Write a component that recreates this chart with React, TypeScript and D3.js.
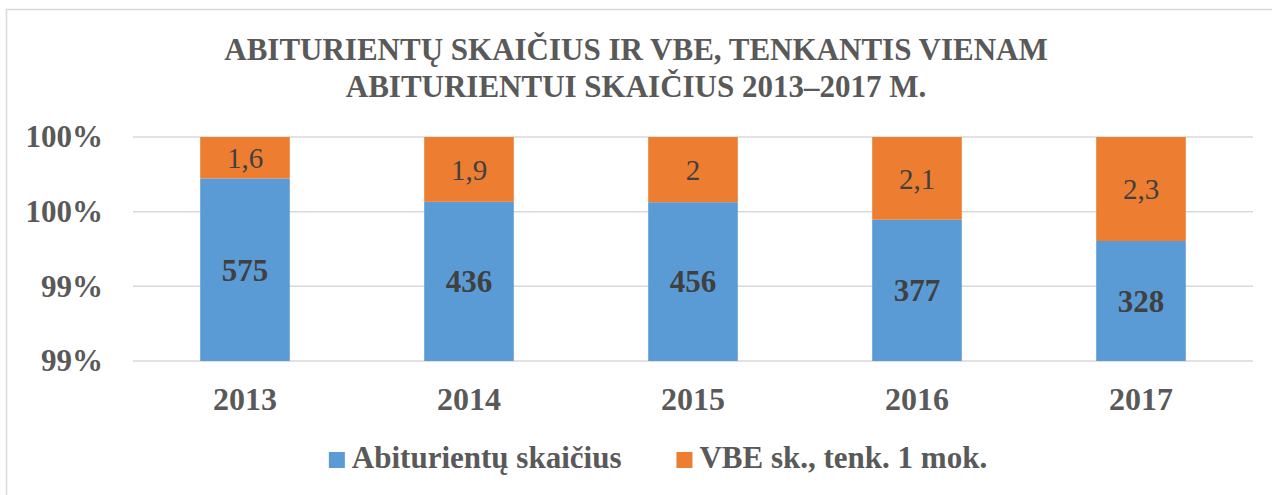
import React, { useEffect, useRef } from "react";
import * as d3 from "d3";

const years = ["2013", "2014", "2015", "2016", "2017"];
const students = [575, 436, 456, 377, 328];
const exams = [1.6, 1.9, 2, 2.1, 2.3];
const examLabels = ["1,6", "1,9", "2", "2,1", "2,3"];
const yTicks = [0.985, 0.99, 0.995, 1];
const seriesNames = ["Abiturientų skaičius", "VBE sk., tenk. 1 mok."];
const titleLines = [
  "ABITURIENTŲ SKAIČIUS IR VBE, TENKANTIS VIENAM",
  "ABITURIENTUI SKAIČIUS 2013–2017 M.",
];

const W = 1272;
const H = 495;
const colors = ["#5B9BD5", "#ED7D31"];
const textColor = "#595959";
const font = "'Liberation Serif', 'Times New Roman', serif";

export default function App() {
  const ref = useRef<SVGSVGElement>(null);

  useEffect(() => {
    const svg = d3.select(ref.current);
    svg.selectAll("*").remove();

    const m = { left: 133, right: 1253, top: 137, bottom: 361 };

    svg
      .append("rect")
      .attr("x", 6.5)
      .attr("y", 9.5)
      .attr("width", W + 20)
      .attr("height", H + 20)
      .attr("fill", "#fff")
      .attr("stroke", "#D9D9D9")
      .attr("stroke-width", 1.5);

    // title
    svg
      .append("g")
      .selectAll("text")
      .data(titleLines)
      .join("text")
      .attr("x", 636)
      .attr("y", (_, i) => 60 + i * 37)
      .attr("text-anchor", "middle")
      .attr("font-family", font)
      .attr("font-weight", "bold")
      .attr("font-size", 31)
      .attr("fill", textColor)
      .text((d) => d);

    const x = d3.scaleBand().domain(years).range([m.left, m.right]).paddingInner(0.6).paddingOuter(0.3);
    const y = d3.scaleLinear().domain([yTicks[0], yTicks[yTicks.length - 1]]).range([m.bottom, m.top]);

    // gridlines
    svg
      .append("g")
      .selectAll("line")
      .data(yTicks)
      .join("line")
      .attr("x1", m.left)
      .attr("x2", m.right)
      .attr("y1", (d) => y(d))
      .attr("y2", (d) => y(d))
      .attr("stroke", "#D9D9D9")
      .attr("stroke-width", 1.5);

    const fmt = (v: number) => Math.round(Math.round(v * 1000) / 10) + "%";
    svg
      .append("g")
      .selectAll("text")
      .data(yTicks)
      .join("text")
      .attr("x", 103)
      .attr("y", (d) => y(d))
      .attr("dy", "0.33em")
      .attr("text-anchor", "end")
      .attr("font-family", font)
      .attr("font-weight", "bold")
      .attr("font-size", 31)
      .attr("fill", textColor)
      .text((d) => fmt(d));

    const table = years.map((yr, i) => ({ year: yr, a: students[i], b: exams[i], i }));
    const stack = d3.stack<any>().keys(["a", "b"]).offset(d3.stackOffsetExpand);
    const series = stack(table);

    svg
      .append("clipPath")
      .attr("id", "plotclip")
      .append("rect")
      .attr("x", m.left)
      .attr("y", m.top)
      .attr("width", m.right - m.left)
      .attr("height", m.bottom - m.top);

    const bars = svg.append("g").attr("clip-path", "url(#plotclip)");
    series.forEach((s, si) => {
      bars
        .append("g")
        .selectAll("rect")
        .data(s)
        .join("rect")
        .attr("x", (d: any) => x(d.data.year)!)
        .attr("width", x.bandwidth())
        .attr("y", (d: any) => y(d[1]))
        .attr("height", (d: any) => y(d[0]) - y(d[1]))
        .attr("fill", colors[si]);
    });

    // data labels
    const clampY = (v: number) => Math.max(m.top, Math.min(m.bottom, y(v)));
    series.forEach((s, si) => {
      svg
        .append("g")
        .selectAll("text")
        .data(s)
        .join("text")
        .attr("x", (d: any) => x(d.data.year)! + x.bandwidth() / 2)
        .attr("y", (d: any) => (clampY(d[0]) + clampY(d[1])) / 2)
        .attr("dy", "0.35em")
        .attr("text-anchor", "middle")
        .attr("font-family", font)
        .attr("font-weight", si === 0 ? "bold" : "normal")
        .attr("font-size", si === 0 ? 31 : 29)
        .attr("fill", "#404040")
        .text((d: any) => (si === 0 ? String(students[d.data.i]) : examLabels[d.data.i]));
    });

    // x labels
    svg
      .append("g")
      .selectAll("text")
      .data(years)
      .join("text")
      .attr("x", (d) => x(d)! + x.bandwidth() / 2)
      .attr("y", 410)
      .attr("text-anchor", "middle")
      .attr("font-family", font)
      .attr("font-weight", "bold")
      .attr("font-size", 32)
      .attr("fill", textColor)
      .text((d) => d);

    // legend
    const lg = svg.append("g");
    const items = lg
      .selectAll("g")
      .data(seriesNames)
      .join("g");
    items
      .append("rect")
      .attr("width", 16)
      .attr("height", 16)
      .attr("y", 452)
      .attr("fill", (_, i) => colors[i]);
    items
      .append("text")
      .attr("x", 23)
      .attr("y", 468)
      .attr("font-family", font)
      .attr("font-weight", "bold")
      .attr("font-size", 31)
      .attr("fill", textColor)
      .text((d) => d);
    const widths: number[] = [];
    items.each(function () {
      const t = d3.select(this).select("text").node() as SVGTextElement;
      widths.push(23 + t.getComputedTextLength());
    });
    const gap = 55;
    const total = widths.reduce((a, b) => a + b, 0) + gap * (widths.length - 1);
    let cx = 658 - total / 2;
    items.attr("transform", (_, i) => {
      const tx = cx;
      cx += widths[i] + gap;
      return `translate(${tx},0)`;
    });
  }, []);

  return (
    <svg ref={ref} width={W} height={H} style={{ display: "block", position: "absolute", left: 0, top: 0 }} />
  );
}
